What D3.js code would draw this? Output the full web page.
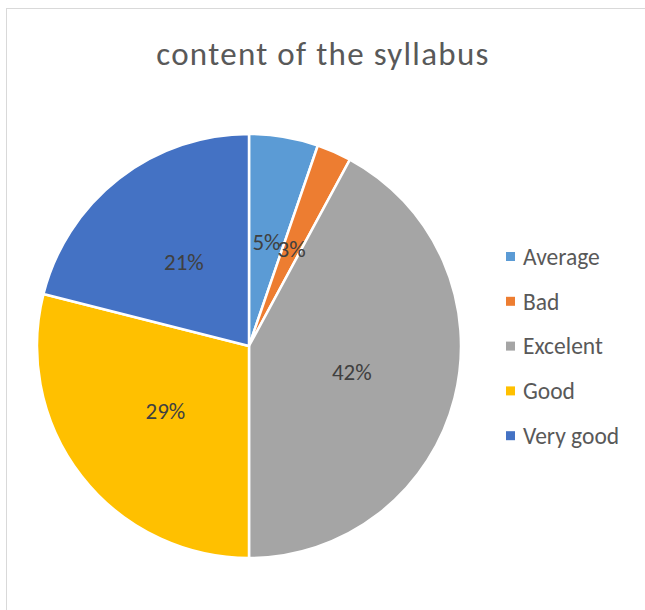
<!DOCTYPE html>
<html>
<head>
<meta charset="utf-8">
<script src="https://cdn.jsdelivr.net/npm/d3@7"></script>
<style>
  body { margin: 0; background: #fff; }
  text { font-family: Carlito, "Liberation Sans", Arial, sans-serif; }
</style>
</head>
<body>
<div id="chart"></div>
<script>
// ---- data (counts, shown as %) ----
var categories = ["Average", "Bad", "Excelent", "Good", "Very good"];
var counts = [2, 1, 16, 11, 8];
var colors = ["#5b9bd5", "#ed7d31", "#a5a5a5", "#ffc000", "#4472c4"];

var width = 645, height = 610;
var cx = 249, cy = 346, radius = 212;

var svg = d3.select("#chart").append("svg")
  .attr("width", width)
  .attr("height", height);

// chart area border
svg.append("rect")
  .attr("x", 6.5).attr("y", 8.5)
  .attr("width", width).attr("height", height)
  .attr("fill", "#fff")
  .attr("stroke", "#d9d9d9");

// title
svg.append("text")
  .attr("x", 323).attr("y", 65)
  .attr("text-anchor", "middle")
  .attr("font-size", 33)
  .attr("letter-spacing", 1.3)
  .attr("fill", "#595959")
  .text("content of the syllabus");

var data = categories.map(function(c, i) { return {name: c, value: counts[i], color: colors[i]}; });
var total = d3.sum(counts);

var pie = d3.pie().sort(null).value(function(d) { return d.value; });
var arc = d3.arc().innerRadius(0).outerRadius(radius);
var labelArc = d3.arc().innerRadius(radius * 0.5).outerRadius(radius * 0.5);

var g = svg.append("g").attr("transform", "translate(" + cx + "," + cy + ")");

g.selectAll("path")
  .data(pie(data))
  .enter().append("path")
  .attr("d", arc)
  .attr("fill", function(d) { return d.data.color; })
  .attr("stroke", "#fff")
  .attr("stroke-width", 2.5)
  .attr("stroke-linejoin", "round");

g.selectAll("text.lbl")
  .data(pie(data))
  .enter().append("text")
  .attr("class", "lbl")
  .attr("transform", function(d) { return "translate(" + labelArc.centroid(d) + ")"; })
  .attr("text-anchor", "middle")
  .attr("dy", "0.35em")
  .attr("font-size", 23)
  .attr("fill", "#404040")
  .text(function(d) { return Math.round(d.data.value / total * 100) + "%"; });

// legend
var legend = svg.append("g").attr("transform", "translate(506,256.5)");
var rows = legend.selectAll("g")
  .data(data)
  .enter().append("g")
  .attr("transform", function(d, i) { return "translate(0," + (i * 44.8) + ")"; });

rows.append("rect")
  .attr("x", 0).attr("y", -4.5)
  .attr("width", 9).attr("height", 9)
  .attr("fill", function(d) { return d.color; });

rows.append("text")
  .attr("x", 17).attr("dy", "0.35em")
  .attr("font-size", 23.5)
  .attr("fill", "#595959")
  .text(function(d) { return d.name; });
</script>
</body>
</html>
